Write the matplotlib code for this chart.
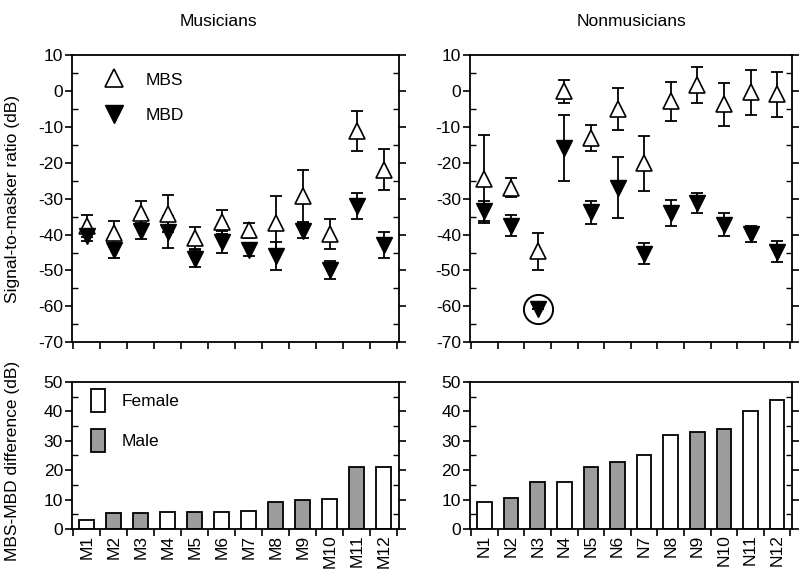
import numpy as np
import matplotlib
matplotlib.use('Agg')
import matplotlib.pyplot as plt
from matplotlib.lines import Line2D
from matplotlib.patches import Patch
from matplotlib.ticker import MultipleLocator, FixedLocator

plt.rcParams['font.family'] = ['Liberation Sans', 'DejaVu Sans']
plt.rcParams['font.size'] = 12.5
plt.rcParams['axes.unicode_minus'] = False

# musicians
mus_labels = ['M1', 'M2', 'M3', 'M4', 'M5', 'M6', 'M7', 'M8', 'M9', 'M10', 'M11', 'M12']
mus_mbs = [-37.7, -39.5, -34.0, -34.2, -41.0, -36.5, -38.8, -36.7, -29.3, -39.8, -11.2, -21.9]
mus_mbs_err = [3.1, 3.2, 3.5, 5.2, 3.0, 3.3, 2.1, 7.5, 7.2, 4.2, 5.6, 5.8]
mus_mbd = [-40.4, -44.4, -39.0, -39.3, -46.7, -42.1, -44.2, -46.0, -38.9, -49.8, -32.1, -42.8]
mus_mbd_err = [1.5, 2.1, 2.1, 4.4, 2.3, 3.0, 1.8, 3.8, 2.0, 2.5, 3.6, 3.6]
mus_diff = [2.9, 5.3, 5.6, 5.75, 5.9, 5.9, 6.0, 9.1, 9.9, 10.2, 21.0, 21.2]
mus_sex = ['F', 'M', 'M', 'F', 'M', 'F', 'F', 'M', 'M', 'F', 'M', 'F']

# nonmusicians
non_labels = ['N1', 'N2', 'N3', 'N4', 'N5', 'N6', 'N7', 'N8', 'N9', 'N10', 'N11', 'N12']
non_mbs = [-24.5, -26.9, -44.7, 0.0, -13.0, -4.9, -20.1, -2.8, 1.6, -3.7, -0.3, -0.9]
non_mbs_err = [12.2, 2.6, 5.2, 3.2, 3.6, 5.8, 7.7, 5.4, 5.0, 6.1, 6.3, 6.3]
non_mbd = [-33.5, -37.5, -60.7, -15.8, -33.8, -27.0, -45.3, -34.0, -31.2, -37.2, -39.8, -44.8]
non_mbd_err = [2.8, 3.0, 0.0, 9.2, 3.3, 8.5, 3.0, 3.7, 2.9, 3.2, 2.2, 2.9]
non_diff = [9.1, 10.7, 16.1, 16.1, 21.0, 22.7, 25.2, 31.9, 33.1, 34.0, 40.0, 43.8]
non_sex = ['F', 'M', 'M', 'F', 'M', 'M', 'F', 'F', 'M', 'M', 'F', 'F']
non_circled = 2  # N3 MBD value outside the tested range

gray = '#9c9c9c'

fig = plt.figure(figsize=(7.99, 5.76), dpi=100)
ax_tl = fig.add_axes([0.090, 0.406, 0.409, 0.498])
ax_tr = fig.add_axes([0.588, 0.406, 0.403, 0.498])
ax_bl = fig.add_axes([0.090, 0.0816, 0.409, 0.2554])
ax_br = fig.add_axes([0.588, 0.0816, 0.403, 0.2554])


def style_axes(ax, ymin, ymax, labels):
    n = len(labels)
    ax.set_xlim(0.45, n + 0.55)
    ax.set_ylim(ymin, ymax)
    for s in ax.spines.values():
        s.set_linewidth(1.3)
    ax.yaxis.set_major_locator(MultipleLocator(10))
    ax.yaxis.set_minor_locator(MultipleLocator(5))
    ax.tick_params(axis='y', which='major', direction='out', length=5, width=1.2,
                   left=True, right=True, labelsize=12.5, pad=1.5)
    ax.tick_params(axis='y', which='minor', direction='in', length=4, width=1.0,
                   left=True, right=True)
    ax.xaxis.set_major_locator(FixedLocator(np.arange(0.5, n + 1, 1.0)))
    ax.xaxis.set_minor_locator(FixedLocator(np.arange(1, n + 1)))
    ax.tick_params(axis='x', which='major', direction='out', length=5, width=1.2,
                   top=False, labelbottom=False)
    ax.tick_params(axis='x', which='minor', length=0, top=False)


def draw_top(ax, mbs, mbs_err, mbd, mbd_err, labels):
    x = np.arange(1, len(labels) + 1)
    ax.errorbar(x, mbs, yerr=mbs_err, fmt='none', ecolor='black', elinewidth=1.3,
                capsize=4, capthick=1.3, zorder=2)
    ax.errorbar(x, mbd, yerr=mbd_err, fmt='none', ecolor='black', elinewidth=1.3,
                capsize=4, capthick=1.3, zorder=2)
    ax.plot(x, mbs, linestyle='none', marker='^', ms=11, mfc='white',
            mec='black', mew=1.2, zorder=3)
    ax.plot(x, mbd, linestyle='none', marker='v', ms=11, mfc='black',
            mec='black', mew=1.0, zorder=3)
    style_axes(ax, -70, 10, labels)


def draw_bottom(ax, diff, sex, labels):
    x = np.arange(1, len(labels) + 1)
    colors = [gray if s == 'M' else 'white' for s in sex]
    ax.bar(x, diff, width=0.55, color=colors, edgecolor='black', linewidth=1.3)
    style_axes(ax, 0, 50, labels)
    ax.tick_params(axis='x', which='minor', labelbottom=True, labelrotation=90,
                   labelsize=12.5, pad=4)
    ax.set_xticks(x, labels, minor=True)


draw_top(ax_tl, mus_mbs, mus_mbs_err, mus_mbd, mus_mbd_err, mus_labels)
draw_top(ax_tr, non_mbs, non_mbs_err, non_mbd, non_mbd_err, non_labels)
ax_tr.plot(non_circled + 1, non_mbd[non_circled], linestyle='none', marker='o',
           ms=21, mfc='none', mec='black', mew=1.4, zorder=4)

draw_bottom(ax_bl, mus_diff, mus_sex, mus_labels)
draw_bottom(ax_br, non_diff, non_sex, non_labels)

ax_tl.set_ylabel('Signal-to-masker ratio (dB)', fontsize=12.5)
ax_tl.yaxis.set_label_coords(-0.158, 0.5)
ax_bl.set_ylabel('MBS-MBD difference (dB)', fontsize=12.5)
ax_bl.yaxis.set_label_coords(-0.158, 0.46)

h_mk = [Line2D([], [], linestyle='none', marker='^', ms=13, mfc='white', mec='black', mew=1.2),
        Line2D([], [], linestyle='none', marker='v', ms=13, mfc='black', mec='black')]
ax_tl.legend(h_mk, ['MBS', 'MBD'], loc='upper left', bbox_to_anchor=(0.04, 0.995),
             frameon=False, fontsize=12.5, labelspacing=1.2, handletextpad=1.0,
             handlelength=1.6)

h_bar = [Patch(facecolor='white', edgecolor='black', linewidth=1.3),
         Patch(facecolor=gray, edgecolor='black', linewidth=1.3)]
ax_bl.legend(h_bar, ['Female', 'Male'], loc='upper left', bbox_to_anchor=(0.01, 1.06),
             frameon=False, fontsize=12.5, labelspacing=0.95, handletextpad=1.0,
             handlelength=0.8, handleheight=1.7)

fig.text(218 / 799, 0.962, 'Musicians', ha='center', va='center', fontsize=12.5)
fig.text(632 / 799, 0.962, 'Nonmusicians', ha='center', va='center', fontsize=12.5)

plt.savefig('out.png', dpi=100)
